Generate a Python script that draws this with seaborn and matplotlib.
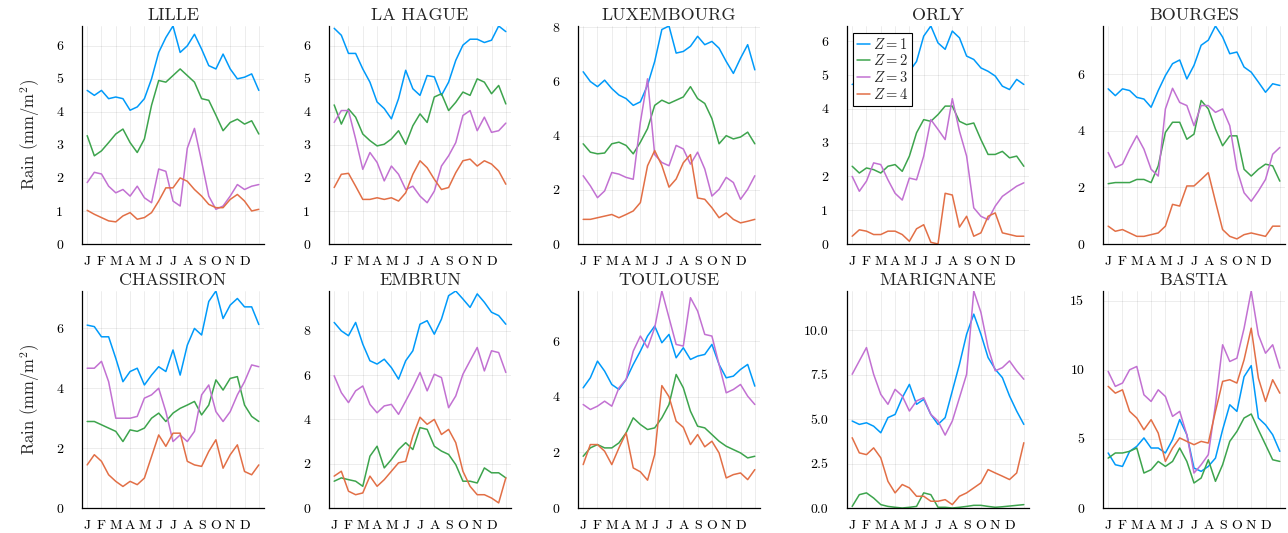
import numpy as np
import pandas as pd
import matplotlib
matplotlib.use("Agg")
import matplotlib.pyplot as plt
import seaborn as sns
from matplotlib.ticker import MultipleLocator, FormatStrFormatter

# ---------------- data (values read at half-month steps, 25 per series) ----------------
stations = ["LILLE", "LA HAGUE", "LUXEMBOURG", "ORLY", "BOURGES",
            "CHASSIRON", "EMBRUN", "TOULOUSE", "MARIGNANE", "BASTIA"]
month_labels = ["J", "F", "M", "A", "M", "J", "J", "A", "S", "O", "N", "D", ""]
z_labels = [r"$Z = 1$", r"$Z = 2$", r"$Z = 3$", r"$Z = 4$"]

lille_z1 = [4.65,4.5,4.65,4.4,4.45,4.4,4.05,4.15,4.4,5.0,5.8,6.25,6.6,5.8,6.0,6.35,5.9,5.4,5.3,5.75,5.3,5.0,5.05,5.15,4.65]
lille_z2 = [3.28,2.67,2.82,3.07,3.33,3.48,3.07,2.77,3.18,4.2,4.95,4.9,5.1,5.3,5.1,4.9,4.4,4.35,3.9,3.43,3.68,3.78,3.63,3.73,3.33]
lille_z3 = [1.86,2.17,2.12,1.75,1.55,1.65,1.45,1.75,1.4,1.25,2.27,2.2,1.3,1.15,2.9,3.5,2.5,1.45,1.05,1.15,1.45,1.8,1.65,1.75,1.8]
lille_z4 = [1.02,0.9,0.8,0.7,0.67,0.85,0.95,0.75,0.8,0.95,1.3,1.7,1.7,2.0,1.9,1.65,1.45,1.2,1.1,1.1,1.35,1.5,1.3,1.0,1.05]

hague_z1 = [6.53,6.32,5.77,5.77,5.3,4.9,4.3,4.1,3.79,4.4,5.26,4.7,4.5,5.1,5.06,4.5,4.9,5.56,6.02,6.2,6.2,6.1,6.17,6.6,6.43]
hague_z2 = [4.21,3.63,4.09,3.84,3.33,3.13,2.97,3.02,3.18,3.43,3.02,3.58,3.94,3.68,4.45,4.55,4.04,4.29,4.6,4.5,5.0,4.9,4.55,4.8,4.24]
hague_z3 = [3.68,4.04,4.04,3.18,2.26,2.77,2.47,1.91,2.36,2.11,1.65,1.75,1.45,1.25,1.6,2.36,2.67,3.07,3.89,4.04,3.43,3.84,3.38,3.43,3.66]
hague_z4 = [1.71,2.11,2.14,1.75,1.35,1.35,1.4,1.35,1.4,1.3,1.55,2.11,2.52,2.31,1.96,1.65,1.71,2.16,2.52,2.57,2.36,2.52,2.42,2.21,1.81]

lux_z1 = [6.36,6.0,5.81,6.05,5.74,5.5,5.37,5.12,5.25,5.87,6.74,7.92,8.05,7.05,7.11,7.3,7.67,7.36,7.48,7.23,6.74,6.3,6.86,7.36,6.43]
lux_z2 = [3.7,3.39,3.33,3.36,3.7,3.76,3.64,3.33,3.76,4.26,5.12,5.31,5.19,5.31,5.43,5.81,5.37,5.19,4.63,3.7,4.0,3.88,3.95,4.13,3.7]
lux_z3 = [2.52,2.15,1.71,1.96,2.64,2.58,2.46,2.39,4.5,6.1,3.3,3.01,2.89,3.64,3.51,2.95,3.39,2.77,1.77,2.02,2.46,2.27,1.65,2.02,2.52]
lux_z4 = [0.91,0.91,0.97,1.03,1.09,0.97,1.09,1.22,1.53,2.89,3.45,2.9,2.1,2.4,3.0,3.3,1.7,1.65,1.34,0.97,1.15,0.91,0.78,0.84,0.91]

orly_z1 = [4.72,4.8,4.9,5.0,4.9,4.8,4.9,5.0,5.11,5.4,6.15,6.45,5.95,5.76,6.3,6.1,5.56,5.46,5.21,5.11,4.97,4.67,4.57,4.87,4.72]
orly_z2 = [2.3,2.1,2.25,2.2,2.1,2.3,2.35,2.15,2.6,3.29,3.68,3.63,3.83,4.08,4.08,3.63,3.53,3.58,3.09,2.65,2.65,2.74,2.55,2.6,2.3]
orly_z3 = [2.0,1.56,1.86,2.4,2.35,1.9,1.5,1.3,1.95,1.9,2.6,3.68,3.39,3.09,4.3,3.34,2.6,1.07,0.82,0.72,1.12,1.41,1.56,1.71,1.81]
orly_z4 = [0.23,0.42,0.38,0.28,0.28,0.38,0.38,0.28,0.08,0.45,0.57,0.05,0.0,1.5,1.45,0.5,0.82,0.23,0.33,0.82,0.92,0.33,0.28,0.23,0.23]

bourges_z1 = [5.48,5.24,5.48,5.42,5.18,5.12,4.83,5.42,5.95,6.37,6.5,5.83,6.31,7.02,7.2,7.7,7.31,6.72,6.78,6.25,6.07,5.72,5.36,5.66,5.6]
bourges_z2 = [2.13,2.17,2.17,2.17,2.28,2.28,2.17,2.76,3.94,4.3,4.3,3.7,3.88,5.07,4.77,4.06,3.47,3.82,3.82,2.64,2.4,2.64,2.82,2.76,2.22]
bourges_z3 = [3.23,2.7,2.82,3.35,3.82,3.35,2.64,2.4,4.77,5.5,5.0,4.89,4.18,4.89,4.89,4.65,4.77,4.18,2.64,1.81,1.51,1.87,2.28,3.17,3.41]
bourges_z4 = [0.63,0.45,0.51,0.39,0.27,0.27,0.33,0.39,0.63,1.4,1.34,2.05,2.05,2.28,2.52,1.5,0.51,0.27,0.18,0.33,0.39,0.33,0.27,0.63,0.63]

chass_z1 = [6.11,6.06,5.72,5.72,5.0,4.22,4.56,4.67,4.11,4.44,4.72,4.56,5.28,4.44,5.44,6.0,5.78,6.9,7.25,6.33,6.78,7.0,6.72,6.72,6.13]
chass_z2 = [2.89,2.89,2.78,2.67,2.56,2.22,2.61,2.56,2.67,3.0,3.17,2.89,3.17,3.33,3.44,3.56,3.11,3.44,4.28,3.94,4.33,4.39,3.44,3.06,2.89]
chass_z3 = [4.67,4.67,4.9,4.22,3.0,3.0,3.0,3.06,3.67,3.78,4.0,3.22,2.22,2.44,2.22,2.56,3.78,4.11,3.22,2.89,3.22,3.78,4.22,4.78,4.72]
chass_z4 = [1.44,1.78,1.56,1.11,0.89,0.72,0.89,0.78,1.0,1.72,2.44,2.06,2.5,2.5,1.56,1.44,1.39,1.89,2.28,1.33,1.78,2.11,1.22,1.11,1.44]

embrun_z1 = [8.38,8.0,7.78,8.38,7.4,6.65,6.5,6.72,6.34,5.82,6.65,7.1,8.3,8.46,7.85,8.53,9.59,9.8,9.44,9.06,9.67,9.29,8.84,8.69,8.3]
embrun_z2 = [1.21,1.36,1.28,1.21,0.98,2.34,2.79,1.81,2.19,2.64,2.95,2.64,3.63,3.55,2.79,2.57,2.42,1.96,1.21,1.21,1.13,1.81,1.59,1.59,1.36]
embrun_z3 = [5.97,5.21,4.76,5.29,5.51,4.68,4.3,4.61,4.68,4.23,4.83,5.44,6.12,5.29,6.04,5.89,4.53,5.06,6.04,6.65,7.25,6.19,7.1,7.02,6.12]
embrun_z4 = [1.44,1.66,0.76,0.6,0.68,1.44,0.98,1.28,1.66,2.04,2.11,3.25,4.1,3.78,4.0,3.32,3.55,2.95,1.66,0.98,0.6,0.6,0.45,0.23,1.36]

toul_z1 = [4.32,4.68,5.28,4.92,4.44,4.26,4.62,5.16,5.64,6.18,6.54,5.94,6.24,5.4,5.76,5.34,5.46,5.52,5.88,5.16,4.68,4.74,4.98,5.16,4.38]
toul_z2 = [1.86,2.16,2.28,2.16,2.16,2.34,2.7,3.24,3.0,2.82,2.88,3.24,3.72,4.8,4.32,3.48,2.94,2.88,2.64,2.4,2.22,2.1,1.98,1.8,1.86]
toul_z3 = [3.72,3.54,3.66,3.84,3.66,4.32,4.62,5.64,6.18,5.76,6.48,7.8,6.84,5.88,5.82,7.56,7.08,6.24,6.18,5.16,4.14,4.26,4.44,4.02,3.72]
toul_z4 = [1.56,2.28,2.28,2.04,1.56,2.16,2.7,1.44,1.3,1.0,1.92,4.4,4.0,3.12,2.9,2.28,2.64,2.2,2.4,1.98,1.08,1.2,1.26,1.02,1.38]

marig_z1 = [4.89,4.7,4.79,4.6,4.23,5.08,5.26,6.2,6.95,5.83,6.11,5.26,4.7,5.08,6.58,8.08,9.77,10.9,9.77,8.46,7.8,7.33,6.3,5.45,4.7]
marig_z2 = [0.09,0.75,0.85,0.56,0.19,0.09,0.04,0.0,0.04,0.09,0.85,0.75,0.04,0.04,0.0,0.04,0.09,0.15,0.15,0.09,0.04,0.07,0.11,0.15,0.19]
marig_z3 = [7.52,8.27,9.02,7.52,6.39,5.83,6.67,6.3,5.45,6.02,6.2,5.26,4.89,4.1,4.89,6.2,7.52,12.2,11.0,9.02,7.71,7.89,8.27,7.71,7.24]
marig_z4 = [3.95,3.1,3.0,3.38,2.82,1.5,0.85,1.32,1.13,0.66,0.66,0.38,0.38,0.47,0.19,0.66,0.85,1.13,1.41,2.16,1.97,1.79,1.6,1.97,3.67]

bastia_z1 = [3.98,3.13,3.01,4.1,4.46,5.07,4.34,4.34,3.98,4.94,6.4,5.3,2.89,2.65,3.01,3.61,5.66,7.47,6.99,9.5,10.3,6.51,6.02,5.3,4.1]
bastia_z2 = [3.61,3.98,3.98,4.1,4.34,2.53,2.77,3.37,3.01,3.37,4.34,3.37,1.81,2.17,3.49,1.93,3.13,4.82,5.54,6.51,6.8,5.66,4.58,3.49,3.37]
bastia_z3 = [9.88,8.8,9.04,10.0,10.24,8.19,7.71,8.55,8.07,6.63,6.99,5.3,2.53,3.13,3.86,7.47,11.81,10.6,10.84,13.0,15.7,12.53,11.2,11.81,10.12]
bastia_z4 = [8.8,8.31,8.55,6.99,6.51,5.66,6.39,5.42,3.37,4.34,5.07,4.82,4.58,4.82,4.7,6.99,9.16,9.28,9.04,10.72,13.01,9.4,7.71,9.28,8.31]

series = {
    "LILLE": [lille_z1, lille_z2, lille_z3, lille_z4],
    "LA HAGUE": [hague_z1, hague_z2, hague_z3, hague_z4],
    "LUXEMBOURG": [lux_z1, lux_z2, lux_z3, lux_z4],
    "ORLY": [orly_z1, orly_z2, orly_z3, orly_z4],
    "BOURGES": [bourges_z1, bourges_z2, bourges_z3, bourges_z4],
    "CHASSIRON": [chass_z1, chass_z2, chass_z3, chass_z4],
    "EMBRUN": [embrun_z1, embrun_z2, embrun_z3, embrun_z4],
    "TOULOUSE": [toul_z1, toul_z2, toul_z3, toul_z4],
    "MARIGNANE": [marig_z1, marig_z2, marig_z3, marig_z4],
    "BASTIA": [bastia_z1, bastia_z2, bastia_z3, bastia_z4],
}
ytick_steps = [1, 1, 2, 1, 2, 2, 2, 2, 2.5, 5]

# ---------------- build long table ----------------
days = 1 + np.arange(25) * 365 / 24
tick_days = 1 + np.arange(13) * 365 / 12
rows = []
for st in stations:
    for zi, vals in enumerate(series[st]):
        for d, v in zip(days, vals):
            rows.append((st, d, z_labels[zi], v))
df = pd.DataFrame(rows, columns=["station", "day", "Z", "rain"])

# ---------------- style ----------------
sns.set_theme(style="white")
plt.rcParams["font.family"] = ["cmr10", "DejaVu Serif"]
plt.rcParams["mathtext.fontset"] = "cm"
plt.rcParams["axes.unicode_minus"] = False
plt.rcParams["axes.formatter.use_mathtext"] = True

palette = dict(zip(z_labels, ["#009AFA", "#3DA44D", "#C271D2", "#E26F46"]))

W, H = 1288, 533
fig = plt.figure(figsize=(W / 100, H / 100), dpi=100)
lefts = [82, 329, 578, 847, 1103]
ax_w = 182
row_top = [26, 291]
row_bot = [244, 508]

for i, st in enumerate(stations):
    r, c = divmod(i, 5)
    ax = fig.add_axes([lefts[c] / W, (H - row_bot[r]) / H, ax_w / W,
                       (row_bot[r] - row_top[r]) / H])
    sub = df[df.station == st]
    sns.lineplot(data=sub, x="day", y="rain", hue="Z", hue_order=z_labels,
                 palette=palette, linewidth=1.1, legend=False, ax=ax)
    ax.set_xlim(-10, 377)
    ax.set_ylim(0, sub.rain.max())
    ax.set_xticks(tick_days)
    ax.set_xticklabels(month_labels)
    step = ytick_steps[i]
    ax.yaxis.set_major_locator(MultipleLocator(step))
    ax.yaxis.set_major_formatter(FormatStrFormatter("%.1f" if step % 1 else "%d"))
    ax.grid(True, color="black", alpha=0.1, linewidth=0.5)
    for s in ["top", "right"]:
        ax.spines[s].set_visible(False)
    for s in ["left", "bottom"]:
        ax.spines[s].set_color("black")
        ax.spines[s].set_linewidth(0.9)
    ax.tick_params(axis="both", direction="in", length=2.5, width=0.8,
                   colors="black", labelsize=10)
    ax.tick_params(axis="x", pad=8.5)
    ax.tick_params(axis="y", pad=13.5)
    ax.set_xlabel("")
    if c == 0:
        ax.set_ylabel(r"Rain $(\mathrm{mm}/\mathrm{m}^2)$", fontsize=12)
        ax.yaxis.set_label_coords(-0.22, 0.5)
    else:
        ax.set_ylabel("")
    ax.set_title(st, fontsize=13, pad=4)
    if st == "ORLY":
        leg = ax.legend(ax.get_lines()[:4], z_labels, loc="upper left",
                        bbox_to_anchor=(0.033, 0.968), borderaxespad=0,
                        frameon=True, fancybox=False, framealpha=1,
                        edgecolor="black", fontsize=10.5, handlelength=0.9,
                        handletextpad=0.25, labelspacing=0.12, borderpad=0.25)
        leg.get_frame().set_linewidth(0.8)

fig.savefig("out.png", dpi=100)
